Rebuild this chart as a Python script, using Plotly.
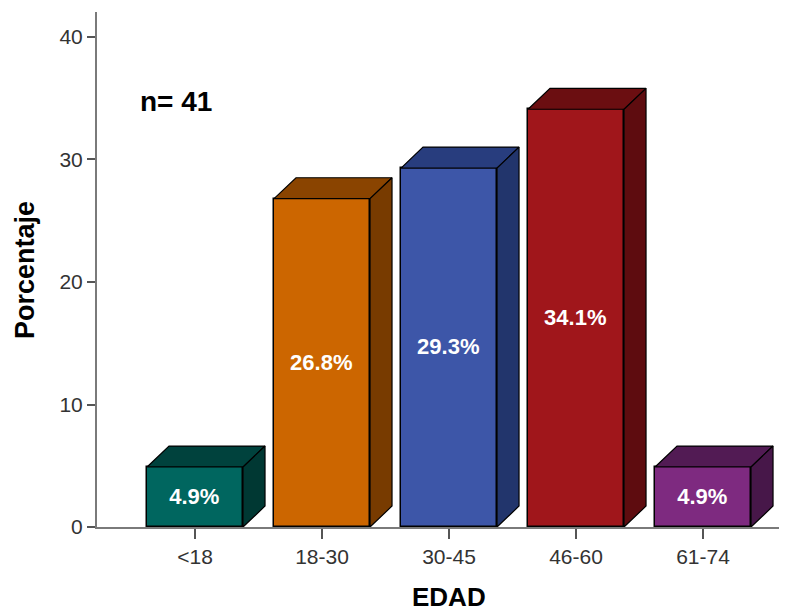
import plotly.graph_objects as go

categories = ["<18", "18-30", "30-45", "46-60", "61-74"]
values = [4.9, 26.8, 29.3, 34.1, 4.9]
labels = ["4.9%", "26.8%", "29.3%", "34.1%", "4.9%"]
front_colors = ["#00665F", "#CC6600", "#3D56A8", "#A0161B", "#7E2A80"]
top_colors = ["#00423D", "#8A4400", "#283D7E", "#6B0E11", "#521B54"]
side_colors = ["#003833", "#783B00", "#22356C", "#5E0C0F", "#471749"]
y_ticks = [0, 10, 20, 30, 40]

BAR_W = 0.756
DX = 0.173
DY = 1.71

# page has an 8px body margin; figure sized to fit the 787x613 window
OFF = 8
W, H = 787 - OFF, 613 - OFF
L, R, T, B = 97 - OFF, 0, 12 - OFF, 613 - 527
pw, ph = W - L - R, H - T - B

xs = list(range(len(categories)))
fig = go.Figure()

for i, v in enumerate(values):
    x0 = xs[i] - BAR_W / 2
    x1 = xs[i] + BAR_W / 2
    fig.add_trace(go.Scatter(
        x=[x0, x0 + DX, x1 + DX, x1, x0], y=[v, v + DY, v + DY, v, v],
        fill="toself", fillcolor=top_colors[i], mode="lines",
        line=dict(color="black", width=1.2), hoverinfo="skip", showlegend=False))
    fig.add_trace(go.Scatter(
        x=[x1, x1 + DX, x1 + DX, x1, x1], y=[0, DY, v + DY, v, 0],
        fill="toself", fillcolor=side_colors[i], mode="lines",
        line=dict(color="black", width=1.2), hoverinfo="skip", showlegend=False))

fig.add_trace(go.Bar(
    x=xs, y=values, width=BAR_W,
    marker=dict(color=front_colors, line=dict(color="black", width=1.5)),
    text=["<b>" + t + "</b>" for t in labels], textposition="inside",
    insidetextanchor="middle",
    textfont=dict(family="Liberation Sans, Arial", size=22, color="white"),
    textangle=0, showlegend=False, hoverinfo="skip"))

fig.add_annotation(x=-0.15, y=34.7, xref="x", yref="y", text="<b>n= 41</b>",
                   showarrow=False, xanchor="center", yanchor="middle",
                   font=dict(family="Liberation Sans, Arial", size=28, color="black"))
fig.add_annotation(x=(449 - OFF - L) / pw, y=(H - B - (597 - OFF)) / ph,
                   xref="paper", yref="paper", text="<b>EDAD</b>",
                   xanchor="center", yanchor="middle",
                   showarrow=False, font=dict(size=26, color="black"))
fig.add_annotation(x=(25 - OFF - L) / pw, y=(H - B - (270 - OFF)) / ph,
                   xref="paper", yref="paper", text="<b>Porcentaje</b>", textangle=-90,
                   xanchor="center", yanchor="middle",
                   showarrow=False, font=dict(size=27, color="black"))

fig.update_layout(
    width=W, height=H,
    margin=dict(l=L, r=R, t=T, b=B, autoexpand=False),
    plot_bgcolor="white", paper_bgcolor="white",
    bargap=0,
    font=dict(family="Liberation Sans, Arial", color="#222"),
)
fig.update_xaxes(
    range=[-0.772, 4.661], tickvals=xs, ticktext=categories,
    showline=True, linecolor="#7a7a7a", linewidth=2,
    ticks="outside", ticklen=10, tickwidth=2, tickcolor="#555",
    tickfont=dict(size=21, color="#333"), showgrid=False, zeroline=False,
    automargin=False,
)
fig.update_yaxes(
    range=[0, 42.04], tickvals=y_ticks,
    showline=True, linecolor="#7a7a7a", linewidth=2,
    ticks="outside", ticklen=8, tickwidth=2, tickcolor="#555",
    tickfont=dict(size=21, color="#333"), showgrid=False, zeroline=False,
    automargin=False,
)

fig.write_html("out.html")
